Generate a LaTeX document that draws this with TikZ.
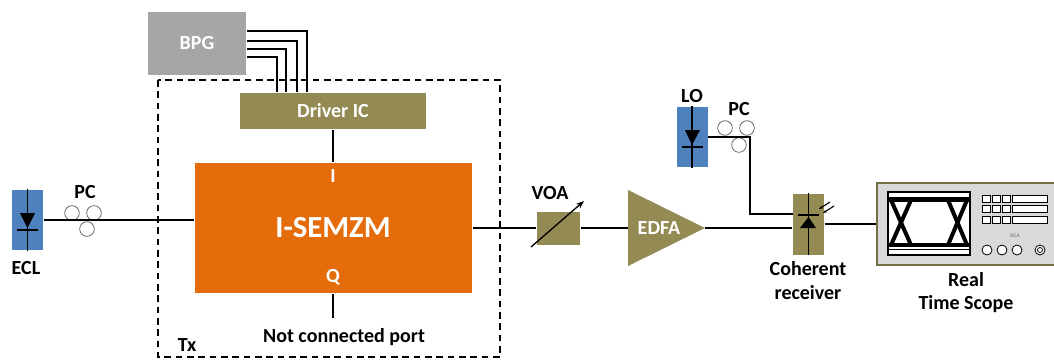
\documentclass[tikz,border=0pt]{standalone}
\usepackage{fontspec}
\setmainfont{Carlito}
\usetikzlibrary{arrows.meta}

\definecolor{laserblue}{HTML}{4F81BD}
\definecolor{olivebox}{HTML}{948A54}
\definecolor{modorange}{HTML}{E46C0A}
\definecolor{bpggray}{HTML}{A6A6A6}
\definecolor{scopebody}{HTML}{D9D9D9}

\begin{document}
\begin{tikzpicture}[x=0.75pt, y=-0.75pt, line width=1.1pt,
  lbl/.style={font=\bfseries\fontsize{15}{17}\selectfont},
  block/.style={rectangle, inner sep=0pt, text=white, font=\bfseries\fontsize{15}{17}\selectfont},
  laser/.style={rectangle, inner sep=0pt, fill=laserblue, minimum width=23.25pt, minimum height=45pt},
  pc/.style={circle, draw=black!60, line width=0.6pt, minimum size=11pt, inner sep=0pt}]
\clip (0,0) rectangle (1054,362);

% transmitter boundary
\draw[dashed, dash pattern=on 5pt off 3.5pt] (158,80) rectangle (500,357);
\node[lbl] at (187,345) (txlabel) {Tx};

% blocks
\node[block, fill=bpggray, minimum width=73.5pt, minimum height=47.25pt] at (197,43.5) (bpg) {BPG};
\node[block, fill=olivebox, minimum width=139.5pt, minimum height=27pt] at (333,111) (driver) {Driver IC};
\node[block, fill=modorange, minimum width=207.75pt, minimum height=97.5pt] at (333.5,228) (mod) {};
\node[text=white, font=\bfseries\fontsize{23}{26}\selectfont] at (333,228) (modname) {I-SEMZM};
\node[block] at (333,176) (iport) {I};
\node[block] at (333,277) (qport) {Q};
\node[block, fill=olivebox, minimum width=32.25pt, minimum height=24.75pt] at (558.5,228) (voa) {};
\node[lbl] at (550,193) (voalabel) {VOA};

% lasers
\node[laser] at (27.5,220) (ecl) {};
\node[lbl] at (26,268) (ecllabel) {ECL};
\node[laser] at (692,137) (lo) {};
\node[lbl] at (692,96) (lolabel) {LO};
\draw (ecl.north) -- (ecl.south);
\fill (20,213) -- (35,213) -- (27.5,228) -- cycle;
\draw (17,230) -- (38,230);
\draw (lo.north) -- (lo.south);
\fill (685,130) -- (700,130) -- (692,145) -- cycle;
\draw (682,147) -- (703,147);

% EDFA
\fill[olivebox] (628,190) -- (705,228) -- (628,266) -- cycle;
\coordinate (edfa-in) at (628,228);
\coordinate (edfa-out) at (705,228);
\node[block] at (659,228) (edfa) {EDFA};

% coherent receiver
\node[block, fill=olivebox, minimum width=23.25pt, minimum height=45.75pt] at (808.5,224) (rx) {};
\draw (rx.north) -- (rx.south);
\fill (800,228) -- (816,228) -- (808.5,217) -- cycle;
\draw (798,215) -- (819,215);
\draw[line width=0.8pt, -{Stealth[length=3pt]}] (830,202) -- (819,209);
\draw[line width=0.8pt, -{Stealth[length=3pt]}] (834,206) -- (823,213);
\node[lbl] at (808,269) (rxlabel1) {Coherent};
\node[lbl] at (808,293) (rxlabel2) {receiver};

% scope
\node[rectangle, fill=scopebody, draw=olivebox!80!black, line width=1.5pt, minimum width=137.25pt, minimum height=61.5pt] at (968.5,224) (scope) {};
\draw[fill=white, line width=0.8pt] (888,192) rectangle (970,255);
\draw[line width=0.5pt] (888,197) -- (970,197);
\draw[line width=0.5pt] (888,249) -- (970,249);
\draw[line width=3pt] (888,200) -- (970,200);
\draw[line width=3pt] (888,245) -- (970,245);
\draw[line width=3pt] (891,200) -- (911,245);
\draw[line width=3pt] (891,245) -- (911,200);
\draw[line width=3pt] (948,200) -- (967,245);
\draw[line width=3pt] (948,245) -- (967,200);
\foreach \x in {982,992,1002}
  \foreach \y in {195,205,216}
    \draw[line width=0.6pt, fill=white] (\x,\y) rectangle (\x+8,\y+7);
\foreach \y in {195,205,216}
  \draw[line width=0.6pt, fill=white] (1012,\y) rectangle (1047,\y+7);
\node[text=black!60, font=\fontsize{4}{5}\selectfont] at (1015,236) (dca) {DCA};
\foreach \x in {987,1002,1017}
  \draw[line width=0.6pt, fill=white] (\x,250) circle (5);
\draw[line width=0.6pt, fill=white] (1040,250) circle (5);
\draw[line width=0.6pt] (1040,250) circle (2.5);
\node[lbl] at (966,280) (scopelabel1) {Real};
\node[lbl] at (966,304) (scopelabel2) {Time Scope};

% polarisation controllers
\node[pc] at (72,213) (pc1a) {};
\node[pc] at (94,213) (pc1b) {};
\node[pc] at (87,229) (pc1c) {};
\node[lbl] at (85,192) (pc1label) {PC};
\node[pc] at (725,128) (pc2a) {};
\node[pc] at (747,128) (pc2b) {};
\node[pc] at (739,145) (pc2c) {};
\node[lbl] at (739,109) (pc2label) {PC};

% fibre and electrical links
\draw (ecl.east) -- (ecl.east -| mod.west);
\foreach \dy/\dx in {9.375/-19.5, 1.875/-27, -4.125/-35.25, -10.125/-42}
  \draw[line width=0.9pt] ([yshift=\dy pt]bpg.east) -| ([xshift=\dx pt]driver.north);
\draw (driver.south) -- (driver.south |- mod.north);
\coordinate (nc) at (333,318);
\draw (mod.south -| nc) -- (nc);
\node[lbl] at (344,337) (nclabel) {Not connected port};
\draw (mod.east) -- (voa.west);
\draw[-{Stealth[length=6pt]}, line width=1pt] (531,247) -- (584,201);
\draw (voa.east) -- (edfa-in);
\draw (edfa-out) -- (edfa-out -| rx.west);
\coordinate (lo-bend) at (750,137);
\coordinate (rx-lo) at (793,214);
\draw (lo.east) -- (lo-bend) |- (rx-lo);
\draw (rx.east) -- (rx.east -| scope.west);
\end{tikzpicture}
\end{document}
